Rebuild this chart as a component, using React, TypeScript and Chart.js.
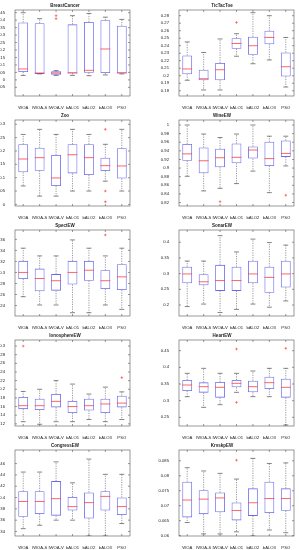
import React, { useEffect, useRef } from 'react';
import { Chart, registerables } from 'chart.js';
Chart.register(...registerables);

const categories = ['WOA', 'IWOA-S', 'IWOA-V', 'bALO1', 'bALO2', 'bALO3', 'PSO'];

// [lower whisker, Q1, median, Q3, upper whisker] per algorithm
const breastCancerStats = [
  [0.03, 0.053, 0.073, 0.385, 0.45], [0.04, 0.04, 0.046, 0.38, 0.41], [0.03, 0.035, 0.046, 0.057, 0.062],
  [0.03, 0.044, 0.046, 0.372, 0.43], [0.028, 0.048, 0.064, 0.388, 0.445], [0.033, 0.046, 0.207, 0.4, 0.42],
  [0.04, 0.044, 0.046, 0.363, 0.405],
];
const breastCancerOut = [[2, 0.43], [2, 0.41]];
const breastCancerTicks = [-0.05, 0, 0.05, 0.1, 0.15, 0.2, 0.25, 0.3, 0.35, 0.4, 0.45];

const ticTacToeStats = [
  [0.194, 0.202, 0.209, 0.227, 0.245], [0.181, 0.194, 0.196, 0.208, 0.231], [0.181, 0.194, 0.208, 0.217, 0.249],
  [0.226, 0.236, 0.243, 0.25, 0.256], [0.216, 0.228, 0.24, 0.252, 0.284], [0.221, 0.242, 0.251, 0.26, 0.28],
  [0.185, 0.199, 0.212, 0.231, 0.251],
];
const ticTacToeOut = [[3, 0.271]];
const ticTacToeTicks = [0.18, 0.19, 0.2, 0.21, 0.22, 0.23, 0.24, 0.25, 0.26, 0.27, 0.28];

const zooStats = [
  [0.069, 0.12, 0.17, 0.225, 0.262], [0.031, 0.126, 0.175, 0.212, 0.281], [0.031, 0.069, 0.099, 0.185, 0.262],
  [0.05, 0.116, 0.186, 0.225, 0.281], [0.05, 0.11, 0.175, 0.225, 0.262], [0.087, 0.125, 0.145, 0.175, 0.225],
  [0.05, 0.097, 0.144, 0.21, 0.281],
];
const zooOut = [[5, 0.281], [5, 0.05], [5, 0.01]];
const zooTicks = [0, 0.05, 0.1, 0.15, 0.2, 0.25, 0.3];

const wineStats = [
  [0.881, 0.917, 0.933, 0.956, 1.0], [0.847, 0.888, 0.917, 0.948, 0.979], [0.853, 0.902, 0.924, 0.945, 0.971],
  [0.864, 0.911, 0.925, 0.957, 0.979], [0.893, 0.922, 0.942, 0.95, 1.0], [0.843, 0.905, 0.922, 0.961, 0.974],
  [0.905, 0.926, 0.934, 0.964, 0.974],
];
const wineOut = [[2, 0.822], [6, 0.837]];
const wineTicks = [0.82, 0.84, 0.86, 0.88, 0.9, 0.92, 0.94, 0.96, 0.98, 1];

const spectStats = [
  [0.256, 0.288, 0.3, 0.321, 0.344], [0.241, 0.266, 0.289, 0.307, 0.33], [0.241, 0.267, 0.285, 0.297, 0.33],
  [0.227, 0.278, 0.3, 0.321, 0.359], [0.227, 0.285, 0.304, 0.321, 0.344], [0.241, 0.27, 0.285, 0.304, 0.33],
  [0.233, 0.268, 0.292, 0.315, 0.344],
];
const spectOut = [[5, 0.368]];
const spectTicks = [0.24, 0.26, 0.28, 0.3, 0.32, 0.34, 0.36];

const sonarStats = [
  [0.195, 0.269, 0.299, 0.322, 0.34], [0.203, 0.263, 0.274, 0.298, 0.34], [0.176, 0.245, 0.278, 0.328, 0.421],
  [0.186, 0.245, 0.278, 0.322, 0.369], [0.203, 0.269, 0.299, 0.341, 0.41], [0.193, 0.239, 0.288, 0.322, 0.399],
  [0.213, 0.256, 0.299, 0.341, 0.391],
];
const sonarOut: number[][] = [];
const sonarTicks = [0.2, 0.25, 0.3, 0.35, 0.4];

const ionoStats = [
  [0.125, 0.154, 0.162, 0.182, 0.195], [0.119, 0.152, 0.162, 0.178, 0.2], [0.125, 0.158, 0.172, 0.189, 0.22],
  [0.125, 0.145, 0.16, 0.173, 0.212], [0.13, 0.151, 0.162, 0.178, 0.189], [0.125, 0.145, 0.166, 0.178, 0.205],
  [0.13, 0.158, 0.168, 0.185, 0.194],
];
const ionoOut = [[0, 0.3], [6, 0.227]];
const ionoTicks = [0.12, 0.14, 0.16, 0.18, 0.2, 0.22, 0.24, 0.26, 0.28, 0.3];

const heartStats = [
  [0.312, 0.329, 0.347, 0.362, 0.382], [0.28, 0.324, 0.342, 0.355, 0.397], [0.288, 0.309, 0.34, 0.356, 0.382],
  [0.325, 0.34, 0.352, 0.362, 0.382], [0.312, 0.325, 0.342, 0.36, 0.389], [0.312, 0.335, 0.354, 0.372, 0.397],
  [0.227, 0.309, 0.34, 0.366, 0.397],
];
const heartOut = [[3, 0.455], [3, 0.295], [6, 0.457]];
const heartTicks = [0.25, 0.3, 0.35, 0.4, 0.45];

const congressStats = [
  [0.345, 0.366, 0.393, 0.411, 0.445], [0.351, 0.371, 0.393, 0.411, 0.445], [0.36, 0.368, 0.398, 0.429, 0.463],
  [0.36, 0.377, 0.384, 0.401, 0.426], [0.332, 0.363, 0.391, 0.409, 0.468], [0.332, 0.377, 0.402, 0.411, 0.441],
  [0.354, 0.369, 0.384, 0.4, 0.441],
];
const congressOut: number[][] = [];
const congressTicks = [0.34, 0.36, 0.38, 0.4, 0.42, 0.44, 0.46];

const krvskpStats = [
  [0.0644, 0.0661, 0.0719, 0.078, 0.0827], [0.0606, 0.0672, 0.0722, 0.0752, 0.0816], [0.0606, 0.0678, 0.0726, 0.0744, 0.0808],
  [0.0613, 0.0651, 0.0684, 0.0711, 0.0789], [0.0599, 0.0666, 0.071, 0.0758, 0.0858], [0.0619, 0.0676, 0.0724, 0.078, 0.0841],
  [0.061, 0.0683, 0.0724, 0.0758, 0.0843],
];
const krvskpOut = [[3, 0.0852]];
const krvskpTicks = [0.06, 0.065, 0.07, 0.075, 0.08, 0.085];

type PanelCfg = { title: string; stats: number[][]; out: number[][]; ticks: number[]; min: number; max: number };

const panels: PanelCfg[] = [
  { title: 'BreastCancer', stats: breastCancerStats, out: breastCancerOut, ticks: breastCancerTicks, min: -0.108, max: 0.468 },
  { title: 'TicTacToe', stats: ticTacToeStats, out: ticTacToeOut, ticks: ticTacToeTicks, min: 0.173, max: 0.2876 },
  { title: 'Zoo', stats: zooStats, out: zooOut, ticks: zooTicks, min: -0.006, max: 0.316 },
  { title: 'WineEW', stats: wineStats, out: wineOut, ticks: wineTicks, min: 0.812, max: 1.0116 },
  { title: 'SpectEW', stats: spectStats, out: spectOut, ticks: spectTicks, min: 0.221, max: 0.377 },
  { title: 'SonarEW', stats: sonarStats, out: sonarOut, ticks: sonarTicks, min: 0.165, max: 0.439 },
  { title: 'IonosphereEW', stats: ionoStats, out: ionoOut, ticks: ionoTicks, min: 0.115, max: 0.314 },
  { title: 'HeartEW', stats: heartStats, out: heartOut, ticks: heartTicks, min: 0.224, max: 0.482 },
  { title: 'CongressEW', stats: congressStats, out: congressOut, ticks: congressTicks, min: 0.332, max: 0.484 },
  { title: 'KrvskpEW', stats: krvskpStats, out: krvskpOut, ticks: krvskpTicks, min: 0.0599, max: 0.0886 },
];

const FONT = 'Liberation Sans, Arial, sans-serif';

function makeBoxPlugin(cfg: PanelCfg) {
  return {
    id: 'boxExtras',
    afterDatasetsDraw(chart: any) {
      const { ctx, chartArea: a, scales } = chart;
      const x = scales.x;
      const y = scales.y;
      const meta = chart.getDatasetMeta(0);
      const line = (x1: number, y1: number, x2: number, y2: number) => {
        ctx.beginPath();
        ctx.moveTo(x1, y1);
        ctx.lineTo(x2, y2);
        ctx.stroke();
      };
      ctx.save();
      ctx.beginPath();
      ctx.rect(a.left, a.top, a.right - a.left, a.bottom - a.top);
      ctx.clip();
      cfg.stats.forEach((s, i) => {
        const cx = x.getPixelForValue(i);
        const hw = meta.data[i].width / 2;
        ctx.strokeStyle = '#555';
        ctx.lineWidth = 0.6;
        ctx.setLineDash([1.2, 1.2]);
        line(cx, y.getPixelForValue(s[3]), cx, y.getPixelForValue(s[4]));
        line(cx, y.getPixelForValue(s[1]), cx, y.getPixelForValue(s[0]));
        ctx.setLineDash([]);
        ctx.strokeStyle = '#333';
        line(cx - hw / 2, y.getPixelForValue(s[4]), cx + hw / 2, y.getPixelForValue(s[4]));
        line(cx - hw / 2, y.getPixelForValue(s[0]), cx + hw / 2, y.getPixelForValue(s[0]));
        ctx.strokeStyle = '#ff4040';
        ctx.lineWidth = 0.8;
        line(cx - hw, y.getPixelForValue(s[2]), cx + hw, y.getPixelForValue(s[2]));
      });
      ctx.strokeStyle = '#ff3030';
      ctx.lineWidth = 0.6;
      cfg.out.forEach(([i, v]) => {
        const cx = x.getPixelForValue(i);
        const cy = y.getPixelForValue(v);
        line(cx - 1.3, cy, cx + 1.3, cy);
        line(cx, cy - 1.3, cx, cy + 1.3);
      });
      ctx.restore();
      // frame and inward ticks
      ctx.save();
      ctx.strokeStyle = '#555';
      ctx.lineWidth = 0.6;
      ctx.strokeRect(a.left, a.top, a.right - a.left, a.bottom - a.top);
      y.ticks.forEach((t: any) => {
        const py = y.getPixelForValue(t.value);
        line(a.left, py, a.left + 2, py);
        line(a.right, py, a.right - 2, py);
      });
      x.ticks.forEach((_t: any, i: number) => {
        const px = x.getPixelForValue(i);
        line(px, a.bottom, px, a.bottom - 2);
        line(px, a.top, px, a.top + 2);
      });
      ctx.restore();
    },
  };
}

function Panel({ cfg, left, top, width, yWidth, padRight }: { cfg: PanelCfg; left: number; top: number; width: number; yWidth: number; padRight: number }) {
  const ref = useRef<HTMLCanvasElement>(null);
  useEffect(() => {
    const chart = new Chart(ref.current!, {
      type: 'bar',
      data: {
        labels: categories,
        datasets: [
          {
            data: cfg.stats.map((s) => [s[1], s[3]]) as any,
            backgroundColor: 'rgba(255,255,255,0)',
            borderColor: '#6a6af0',
            borderWidth: 0.8,
            borderSkipped: false,
            barPercentage: 0.6,
            categoryPercentage: 1,
          },
        ],
      },
      options: {
        responsive: false,
        animation: false,
        devicePixelRatio: 1,
        layout: { padding: { top: 0.6, right: padRight, left: 0, bottom: 0 } },
        plugins: {
          legend: { display: false },
          tooltip: { enabled: false },
          title: {
            display: true,
            text: cfg.title,
            color: '#222',
            font: { size: 4.5, family: FONT },
            padding: { top: 2, bottom: 2 },
          },
        },
        scales: {
          x: {
            grid: { display: false },
            border: { display: false },
            ticks: { color: '#222', font: { size: 4.2, family: FONT }, maxRotation: 0, autoSkip: false, padding: 1.5 },
            afterFit: (s: any) => { s.height = 14; },
          },
          y: {
            min: cfg.min,
            max: cfg.max,
            grid: { display: false },
            border: { display: false },
            afterBuildTicks: (s: any) => { s.ticks = cfg.ticks.map((v) => ({ value: v })); },
            ticks: {
              color: '#222',
              font: { size: 4.2, family: FONT },
              padding: 2,
              callback: (v: any) => String(v),
            },
            afterFit: (s: any) => { s.width = yWidth; },
          },
        },
      },
      plugins: [makeBoxPlugin(cfg)],
    });
    return () => chart.destroy();
  }, []);
  return (
    <div style={{ position: 'absolute', left, top, width, height: 110 }}>
      <canvas ref={ref} width={width} height={110} style={{ display: 'block' }} />
    </div>
  );
}

export default function App() {
  return (
    <div style={{ position: 'absolute', left: 0, top: 0, width: 299, height: 550, background: '#fff', overflow: 'hidden' }}>
      {panels.map((p, i) => {
        const col = i % 2;
        const row = Math.floor(i / 2);
        return col === 0 ? (
          <Panel key={p.title} cfg={p} left={0} top={row * 110} width={150} yWidth={15} padRight={20} />
        ) : (
          <Panel key={p.title} cfg={p} left={150} top={row * 110} width={149} yWidth={29} padRight={5} />
        );
      })}
    </div>
  );
}
